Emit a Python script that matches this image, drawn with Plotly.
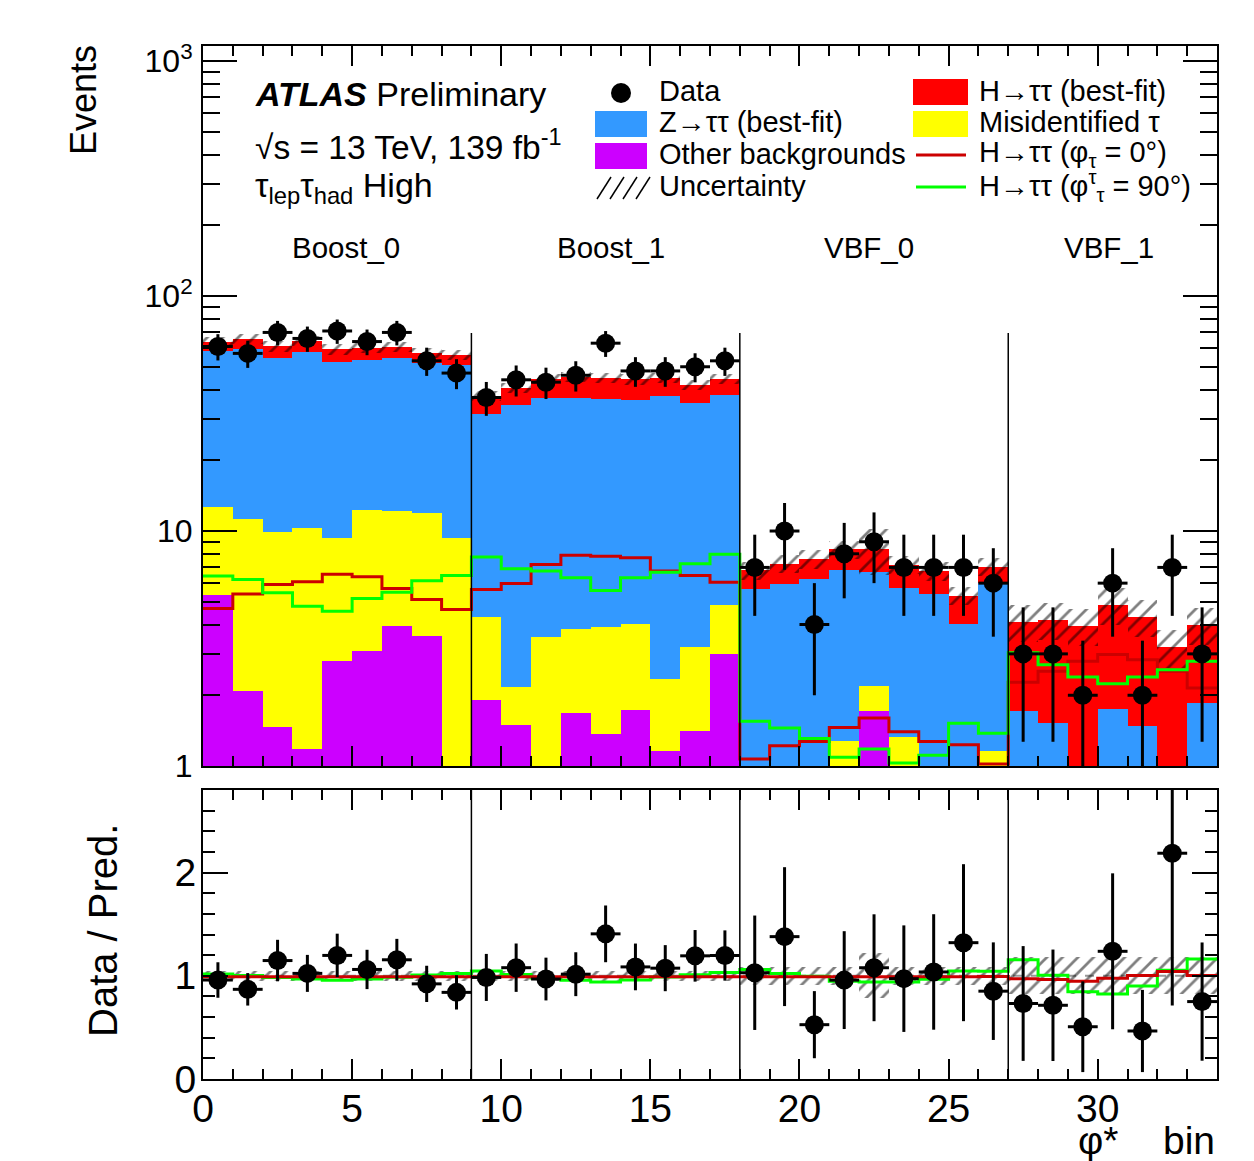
import numpy as np
import plotly.graph_objects as go

# ---------------- data ----------------
data = [61, 57, 70, 66, 71, 64, 70, 53, 47,
        37, 44, 43, 46, 63, 48, 48, 50, 53,
        7, 10, 4, 8, 9, 7, 7, 7, 6,
        3, 3, 2, 6, 2, 7, 3]
other = [5.33, 2.09, 1.46, 1.18, 2.79, 3.10, 3.96, 3.56, 0.50,
         1.91, 1.50, 0.60, 1.68, 1.37, 1.73, 1.16, 1.41, 3.01,
         0.30, 0.30, 0.30, 0.40, 1.72, 0.40, 0.30, 0.30, 0.40,
         0.10, 0.10, 0.10, 0.10, 0.10, 0.10, 0.10]
fake = [7.27, 9.11, 8.44, 9.12, 6.54, 9.20, 8.24, 8.34, 8.83,
        2.39, 0.66, 2.94, 2.13, 2.52, 2.31, 1.19, 1.80, 1.81,
        0.30, 0.30, 0.30, 0.88, 0.46, 0.93, 0.30, 0.30, 0.76,
        0.10, 0.10, 0.10, 0.10, 0.10, 0.10, 0.10]
ztt = [45.68, 48.34, 44.57, 47.47, 42.84, 41.01, 42.10, 39.91, 41.48,
       27.28, 32.25, 33.21, 33.16, 32.66, 32.02, 35.15, 31.80, 32.98,
       5.06, 5.36, 5.65, 5.53, 4.49, 4.40, 4.81, 3.42, 4.82,
       1.51, 1.32, 0.75, 1.55, 1.28, 0.60, 1.66]
h_fit = [5.32, 6.06, 6.53, 6.73, 7.13, 6.99, 6.30, 5.69, 5.19,
         6.02, 6.39, 7.65, 8.33, 8.25, 8.14, 7.20, 6.89, 6.50,
         1.14, 1.29, 1.35, 1.54, 1.68, 1.47, 1.34, 1.28, 1.07,
         2.39, 2.68, 3.00, 3.10, 2.82, 2.40, 2.14]
h_phi0 = [4.68, 5.40, 5.92, 6.08, 6.54, 6.39, 5.69, 5.11, 4.63,
          5.64, 5.98, 7.21, 7.88, 7.80, 7.70, 6.75, 6.47, 6.06,
          1.07, 1.22, 1.27, 1.46, 1.60, 1.40, 1.27, 1.23, 1.02,
          2.27, 2.53, 2.79, 2.98, 2.83, 2.53, 2.15]
h_phi90 = [6.43, 6.22, 5.46, 4.79, 4.56, 5.16, 5.49, 6.14, 6.47,
           7.75, 6.91, 6.75, 6.33, 5.58, 6.33, 6.68, 7.26, 7.96,
           1.55, 1.45, 1.31, 1.09, 1.18, 1.03, 1.11, 1.52, 1.38,
           3.03, 2.70, 2.39, 2.24, 2.39, 2.57, 2.79]
rel_unc = [0.05] * 9 + [0.05] * 9 + \
          [0.09, 0.09, 0.09, 0.09, 0.22, 0.09, 0.09, 0.09, 0.09] + [0.18] * 7
regions = ["Boost_0", "Boost_1", "VBF_0", "VBF_1"]
region_edges = [0, 9, 18, 27, 34]
x_ticks = [0, 5, 10, 15, 20, 25, 30]

# ---------------- derived ----------------
n = len(data)
xc = np.arange(n) + 0.5
edges = np.arange(n + 1)
d = np.array(data, float)
c_other = np.array(other)
c_fake = c_other + np.array(fake)
c_ztt = c_fake + np.array(ztt)
c_tot = c_ztt + np.array(h_fit)
unc = np.array(rel_unc)
ratio = d / c_tot
ratio_err = ratio * np.sqrt(1 / d + 1 / c_tot)
r0 = (c_tot - np.array(h_fit) + np.array(h_phi0)) / c_tot
r90 = (c_tot - np.array(h_fit) + np.array(h_phi90)) / c_tot

RED, BLUE, PURPLE, YELLOW = "#ff0000", "#3399ff", "#cc00ff", "#ffff00"
DRED, GREEN = "#cc0000", "#00ff00"
FONT = "Liberation Sans, Arial, sans-serif"

# the page body adds an 8px offset; plot area given in screen pixels
OFF = 8
W, H = 1254 - OFF, 1161 - OFF
L, R, T, B = 203, 1217, 46, 1079  # screen pixels of the plot frame


def px(x):
    return (x - L) / (R - L)


def py(y):
    return (B - y) / (B - T)


def step(v):
    v = list(v)
    return v + [v[-1]]


HATCH = dict(shape="/", fgcolor="black", bgcolor="rgba(0,0,0,0)", size=11, solidity=0.25)

fig = go.Figure()

# stacked histograms (cumulative, overlay)
for vals, col in [(c_tot, RED), (c_ztt, BLUE), (c_fake, YELLOW), (c_other, PURPLE)]:
    fig.add_trace(go.Bar(x=xc, y=vals, width=1, xaxis="x", yaxis="y",
                         marker=dict(color=col, line=dict(width=0))))
# uncertainty hatch (top)
fig.add_trace(go.Bar(x=xc, y=c_tot * 2 * unc, base=c_tot * (1 - unc), width=1,
                     xaxis="x", yaxis="y",
                     marker=dict(color="rgba(0,0,0,0)", line=dict(width=0), pattern=HATCH)))
# signal hypotheses lines (top)
fig.add_trace(go.Scatter(x=edges, y=step(h_phi0), mode="lines", xaxis="x", yaxis="y",
                         line=dict(shape="hv", color=DRED, width=3)))
fig.add_trace(go.Scatter(x=edges, y=step(h_phi90), mode="lines", xaxis="x", yaxis="y",
                         line=dict(shape="hv", color=GREEN, width=3)))
# data (top)
fig.add_trace(go.Scatter(x=xc, y=d, mode="markers", xaxis="x", yaxis="y",
                         marker=dict(size=19, color="black"),
                         error_y=dict(type="data", array=np.sqrt(d), color="black",
                                      thickness=3, width=0),
                         error_x=dict(type="constant", value=0.5, color="black",
                                      thickness=3, width=0)))
# dummy for minor tick axis
fig.add_trace(go.Scatter(x=[0.5], y=[2], mode="markers", xaxis="x", yaxis="y3",
                         marker=dict(size=1, color="rgba(0,0,0,0)"), hoverinfo="skip"))

# ratio panel
fig.add_trace(go.Bar(x=xc, y=2 * unc, base=1 - unc, width=1, xaxis="x2", yaxis="y2",
                     marker=dict(color="rgba(0,0,0,0)", line=dict(width=0), pattern=HATCH)))
fig.add_trace(go.Scatter(x=edges, y=step(r90), mode="lines", xaxis="x2", yaxis="y2",
                         line=dict(shape="hv", color=GREEN, width=3)))
fig.add_trace(go.Scatter(x=edges, y=step(r0), mode="lines", xaxis="x2", yaxis="y2",
                         line=dict(shape="hv", color=DRED, width=3)))
fig.add_trace(go.Scatter(x=xc, y=ratio, mode="markers", xaxis="x2", yaxis="y2",
                         marker=dict(size=19, color="black"),
                         error_y=dict(type="data", array=ratio_err, color="black",
                                      thickness=3, width=0),
                         error_x=dict(type="constant", value=0.5, color="black",
                                      thickness=3, width=0)))

shapes = []
# region separators
for e in region_edges[1:-1]:
    shapes.append(dict(type="line", xref="x", yref="paper", x0=e, x1=e,
                       y0=py(766), y1=py(333), line=dict(color="black", width=1.5),
                       layer="above"))
    shapes.append(dict(type="line", xref="x2", yref="y2", x0=e, x1=e,
                       y0=0, y1=2.8, line=dict(color="black", width=1.5),
                       layer="above"))
shapes.append(dict(type="line", xref="x2", yref="y2", x0=0, x1=34, y0=1, y1=1,
                   line=dict(color="#999999", width=2, dash="dash"), layer="below"))

# legend swatches
shapes.append(dict(type="circle", xref="paper", yref="paper",
                   x0=px(611), x1=px(631), y0=py(103), y1=py(83),
                   fillcolor="black", line=dict(width=0)))
for (y0, y1, col) in [(111, 137, BLUE), (143, 169, PURPLE)]:
    shapes.append(dict(type="rect", xref="paper", yref="paper",
                       x0=px(595), x1=px(647), y0=py(y1), y1=py(y0),
                       fillcolor=col, line=dict(width=0)))
for (y0, y1, col) in [(79, 105, RED), (111, 137, YELLOW)]:
    shapes.append(dict(type="rect", xref="paper", yref="paper",
                       x0=px(913), x1=px(968), y0=py(y1), y1=py(y0),
                       fillcolor=col, line=dict(width=0)))
for k in range(4):
    x0 = 597 + k * 13
    shapes.append(dict(type="line", xref="paper", yref="paper",
                       x0=px(x0), x1=px(x0 + 14), y0=py(199), y1=py(177),
                       line=dict(color="black", width=1.5)))
shapes.append(dict(type="line", xref="paper", yref="paper", x0=px(916), x1=px(966),
                   y0=py(155), y1=py(155), line=dict(color=DRED, width=3)))
shapes.append(dict(type="line", xref="paper", yref="paper", x0=px(916), x1=px(966),
                   y0=py(187), y1=py(187), line=dict(color=GREEN, width=3)))

ann = []


def text(t, x, y, size, xanchor="left", yanchor="middle", angle=0):
    ann.append(dict(text=t, x=px(x), y=py(y), xref="paper", yref="paper",
                    xanchor=xanchor, yanchor=yanchor, showarrow=False,
                    textangle=angle, font=dict(size=size, color="black", family=FONT)))


text("<b><i>ATLAS</i></b> Preliminary", 253, 94, 34)
text("√s = 13 TeV, 139 fb<sup>-1</sup>", 253, 145, 33.5)
text("τ<sub>lep</sub>τ<sub>had</sub> High", 253, 187, 34)
centers_px = [346, 611, 869, 1109]
for name, cx in zip(regions, centers_px):
    text(name, cx, 248, 29.5, xanchor="center")
text("Data", 657, 91, 29)
text("Z→ττ (best-fit)", 657, 122, 29)
text("Other backgrounds", 657, 154, 29)
text("Uncertainty", 657, 186, 29)
text("H→ττ (best-fit)", 977, 91, 29)
text("Misidentified τ", 977, 122, 29)
text("H→ττ (φ<sub>τ</sub> = 0°)", 977, 154, 29)
text("H→ττ (φ<sup>τ</sup><sub>τ</sub> = 90°)", 977, 186, 29)
text("Events", 83, 100, 36, xanchor="center", angle=-90)
text("Data / Pred.", 103, 931, 40, xanchor="center", angle=-90)
text("φ*", 1098, 1140, 39, xanchor="center")
text("bin", 1217, 1140, 39, xanchor="right")

minor_vals = [m * 10 ** k for k in range(3) for m in range(2, 10)]
ymax_log = 3.064

axis_common = dict(showline=True, linecolor="black", linewidth=2, showgrid=False,
                   zeroline=False, ticks="inside", tickcolor="black", tickwidth=1.5)

fig.update_layout(
    width=W, height=H,
    margin=dict(l=L - OFF, r=(W + OFF) - R, t=T - OFF, b=(H + OFF) - B),
    paper_bgcolor="white", plot_bgcolor="white",
    barmode="overlay", bargap=0, showlegend=False,
    font=dict(family=FONT, color="black"),
    shapes=shapes, annotations=ann,
    xaxis=dict(domain=[0, 1], anchor="y", range=[0, 34], showticklabels=False,
               tick0=0, dtick=5, ticklen=20, mirror="ticks",
               minor=dict(dtick=1, ticklen=10, ticks="inside", tickcolor="black",
                          tickwidth=1.5),
               **axis_common),
    yaxis=dict(domain=[py(766), 1], anchor="x", type="log", range=[0, ymax_log],
               tickmode="array", tickvals=[1, 10, 100, 1000],
               ticktext=["1", "10", "10<sup>2</sup>", "10<sup>3</sup>"],
               tickfont=dict(size=32), ticklen=34, mirror="ticks",
               ticklabelstandoff=2, **axis_common),
    yaxis3=dict(overlaying="y", anchor="x", type="log", range=[0, ymax_log],
                tickmode="array", tickvals=minor_vals, showticklabels=False,
                ticks="inside", ticklen=17, tickcolor="black", tickwidth=1.5,
                mirror="ticks", showline=False, showgrid=False, zeroline=False),
    xaxis2=dict(domain=[0, 1], anchor="y2", range=[0, 34], matches="x",
                tickmode="array", tickvals=x_ticks, tickfont=dict(size=39),
                ticklen=20, mirror="ticks", ticklabelstandoff=-6,
                minor=dict(dtick=1, tick0=0, ticklen=10, ticks="inside",
                           tickcolor="black", tickwidth=1.5),
                **axis_common),
    yaxis2=dict(domain=[0, py(790)], anchor="x2", range=[0, 2.8],
                tickmode="array", tickvals=[0, 1, 2], tickfont=dict(size=39),
                ticklen=25, mirror="ticks", ticklabelstandoff=-3,
                minor=dict(tickmode="linear", tick0=0, dtick=0.2, ticklen=12,
                           ticks="inside", tickcolor="black", tickwidth=1.5),
                **axis_common),
)

fig.write_html("out.html")
